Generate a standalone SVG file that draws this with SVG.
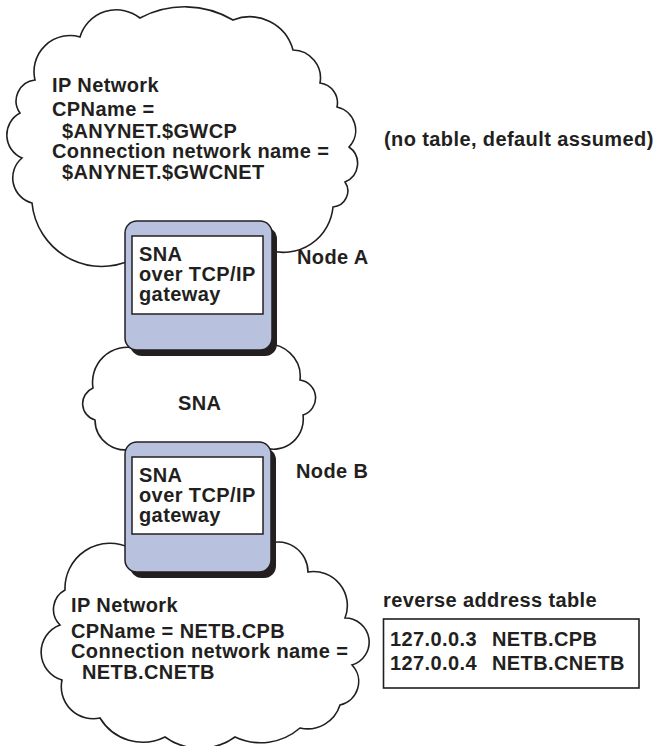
<svg xmlns="http://www.w3.org/2000/svg" width="659" height="746" viewBox="0 0 659 746">
<style>
text{font-family:"Liberation Sans",Arial,Helvetica,sans-serif;font-weight:bold;font-size:20px;letter-spacing:0.4px;fill:#231f20}
.cloud{fill:#fff;stroke:#231f20;stroke-width:1.6}
.shadow{fill:#231f20}
.box{fill:#b8c2de;stroke:#231f20;stroke-width:1.5}
.inner{fill:#fff;stroke:#231f20;stroke-width:1.5}
.tbl{fill:none;stroke:#231f20;stroke-width:1.6}
</style>
<rect width="659" height="746" fill="#fff"/>
<g id="cloud-top">
<path class="cloud" d="M140,255 A70,70 0 0 1 32,203 A26,26 0 0 1 22,158 A25,25 0 0 1 20,113 A21,21 0 0 1 35,80 A36,36 0 0 1 80,37 A38,38 0 0 1 140,18 A95,95 0 0 1 233,20 A45,45 0 0 1 293,50 A28,28 0 0 1 320,83 A20,20 0 0 1 337,107 A24,24 0 0 1 349,147 A20,20 0 0 1 345,182 A16,16 0 0 1 333,207 A50,50 0 0 1 268,250 Z"/>
<text x="52" y="92">IP Network</text>
<text x="52" y="116">CPName =</text>
<text x="62" y="138">$ANYNET.$GWCP</text>
<text x="52" y="158">Connection network name =</text>
<text x="62" y="179">$ANYNET.$GWCNET</text>
</g>
<g id="note-top">
<text x="384" y="146">(no table, default assumed)</text>
</g>
<g id="cloud-sna">
<path class="cloud" d="M262,345 A32,32 0 0 1 300,380 A18,18 0 0 1 303,415 A30,30 0 0 1 265,448 L135,448 A30,30 0 0 1 95,420 A17,17 0 0 1 93,388 A35,35 0 0 1 135,348 Z"/>
<text x="178" y="410">SNA</text>
</g>
<g id="cloud-bottom">
<path class="cloud" d="M265,545 A30,30 0 0 1 308,572 A34,34 0 0 1 345,618 A24,24 0 0 1 352,665 A24,24 0 0 1 340,705 A34,34 0 0 1 300,728 A60,60 0 0 1 235,737 A60,60 0 0 1 165,737 A50,50 0 0 1 100,718 A32,32 0 0 1 62,680 A29,29 0 0 1 60,625 A22,22 0 0 1 65,590 A45,45 0 0 1 130,548 Z"/>
<text x="71" y="612">IP Network</text>
<text x="71" y="638">CPName = NETB.CPB</text>
<text x="71" y="658">Connection network name =</text>
<text x="82" y="679">NETB.CNETB</text>
</g>
<g id="nodeA">
<rect class="shadow" x="130" y="227" width="147" height="129" rx="12"/>
<rect class="box" x="125" y="221" width="147" height="129" rx="12"/>
<rect class="inner" x="132" y="236" width="131" height="78"/>
<text x="139" y="261">SNA</text>
<text x="139" y="281">over TCP/IP</text>
<text x="139" y="301">gateway</text>
<text x="297" y="264">Node A</text>
</g>
<g id="nodeB">
<rect class="shadow" x="130" y="448" width="146" height="130" rx="12"/>
<rect class="box" x="125" y="442" width="146" height="130" rx="12"/>
<rect class="inner" x="132" y="457" width="131" height="77"/>
<text x="139" y="482">SNA</text>
<text x="139" y="502">over TCP/IP</text>
<text x="139" y="522">gateway</text>
<text x="296" y="478">Node B</text>
</g>
<g id="table">
<text x="383" y="607">reverse address table</text>
<rect class="tbl" x="383.5" y="619" width="255.5" height="69"/>
<text x="390" y="646">127.0.0.3</text>
<text x="492" y="646">NETB.CPB</text>
<text x="390" y="670">127.0.0.4</text>
<text x="492" y="670">NETB.CNETB</text>
</g>
<g id="connectors"></g>
</svg>
